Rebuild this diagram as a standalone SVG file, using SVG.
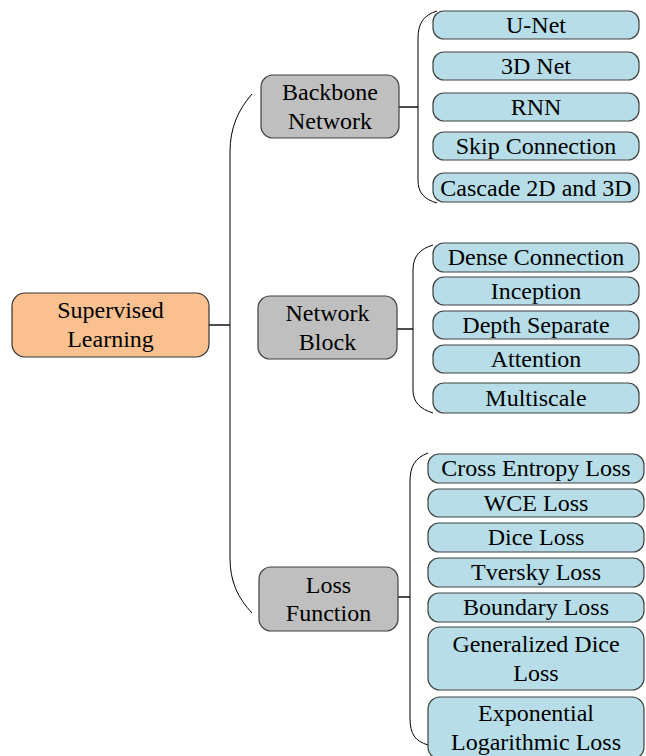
<svg xmlns="http://www.w3.org/2000/svg" width="646" height="756" viewBox="0 0 646 756">
<rect width="646" height="756" fill="#fff"/>
<g id="connectors" fill="none" stroke="#000">
<line stroke-width="1.4" x1="209" y1="325" x2="230" y2="325"/>
<path stroke-width="1" d="M252,94 C238,110 230,128 230,152 L230,558 C230,582 238,598 252,613"/>
<line stroke-width="1.4" x1="399" y1="107" x2="418" y2="107"/>
<path stroke-width="1" d="M437,11 C424,15 418,23 418,38 L418,180 C418,193 424,199 437,203"/>
<line stroke-width="1.4" x1="397" y1="329" x2="413" y2="329"/>
<path stroke-width="1" d="M433,245 C420,249 413,256 413,270 L413,390 C413,402 420,409 433,413"/>
<line stroke-width="1.4" x1="398" y1="597" x2="410" y2="597"/>
<path stroke-width="1" d="M428,453 C415,458 410,466 410,482 L410,718 C410,734 415,741 428,745"/>
</g>
<g id="supervised-learning"><rect fill="#FAC090" stroke="#333" stroke-width="1.2" x="12" y="293" width="197" height="64" rx="13"/><text font-family="Liberation Serif" font-size="24" text-anchor="middle" x="110.5" y="318">Supervised</text><text font-family="Liberation Serif" font-size="24" text-anchor="middle" x="110.5" y="347">Learning</text></g>
<g id="backbone-network"><rect fill="#BFBFBF" stroke="#404040" stroke-width="1.2" x="261" y="75" width="138" height="63" rx="12"/><text font-family="Liberation Serif" font-size="24" text-anchor="middle" x="330" y="100">Backbone</text><text font-family="Liberation Serif" font-size="24" text-anchor="middle" x="330" y="129">Network</text></g>
<g id="network-block"><rect fill="#BFBFBF" stroke="#404040" stroke-width="1.2" x="258" y="296" width="139" height="63" rx="12"/><text font-family="Liberation Serif" font-size="24" text-anchor="middle" x="327.5" y="321">Network</text><text font-family="Liberation Serif" font-size="24" text-anchor="middle" x="327.5" y="350">Block</text></g>
<g id="loss-function"><rect fill="#BFBFBF" stroke="#404040" stroke-width="1.2" x="259" y="567" width="139" height="64" rx="12"/><text font-family="Liberation Serif" font-size="24" text-anchor="middle" x="328.5" y="593">Loss</text><text font-family="Liberation Serif" font-size="24" text-anchor="middle" x="328.5" y="621">Function</text></g>
<g id="u-net"><rect fill="#B7DEE8" stroke="#404040" stroke-width="1.2" x="433" y="11" width="206" height="28" rx="11"/><text font-family="Liberation Serif" font-size="24" text-anchor="middle" x="536" y="33">U-Net</text></g>
<g id="3d-net"><rect fill="#B7DEE8" stroke="#404040" stroke-width="1.2" x="433" y="52" width="206" height="28" rx="11"/><text font-family="Liberation Serif" font-size="24" text-anchor="middle" x="536" y="74">3D Net</text></g>
<g id="rnn"><rect fill="#B7DEE8" stroke="#404040" stroke-width="1.2" x="433" y="93" width="206" height="28" rx="11"/><text font-family="Liberation Serif" font-size="24" text-anchor="middle" x="536" y="115">RNN</text></g>
<g id="skip-connection"><rect fill="#B7DEE8" stroke="#404040" stroke-width="1.2" x="433" y="132" width="206" height="28" rx="11"/><text font-family="Liberation Serif" font-size="24" text-anchor="middle" x="536" y="154">Skip Connection</text></g>
<g id="cascade"><rect fill="#B7DEE8" stroke="#404040" stroke-width="1.2" x="433" y="173" width="206" height="29" rx="11"/><text font-family="Liberation Serif" font-size="24" text-anchor="middle" x="536" y="196">Cascade 2D and 3D</text></g>
<g id="dense-connection"><rect fill="#B7DEE8" stroke="#404040" stroke-width="1.2" x="433" y="243" width="206" height="29" rx="11"/><text font-family="Liberation Serif" font-size="24" text-anchor="middle" x="536" y="265">Dense Connection</text></g>
<g id="inception"><rect fill="#B7DEE8" stroke="#404040" stroke-width="1.2" x="433" y="277" width="206" height="28" rx="11"/><text font-family="Liberation Serif" font-size="24" text-anchor="middle" x="536" y="299">Inception</text></g>
<g id="depth-separate"><rect fill="#B7DEE8" stroke="#404040" stroke-width="1.2" x="433" y="311" width="206" height="28" rx="11"/><text font-family="Liberation Serif" font-size="24" text-anchor="middle" x="536" y="333">Depth Separate</text></g>
<g id="attention"><rect fill="#B7DEE8" stroke="#404040" stroke-width="1.2" x="433" y="345" width="206" height="28" rx="11"/><text font-family="Liberation Serif" font-size="24" text-anchor="middle" x="536" y="367">Attention</text></g>
<g id="multiscale"><rect fill="#B7DEE8" stroke="#404040" stroke-width="1.2" x="433" y="383" width="206" height="30" rx="11"/><text font-family="Liberation Serif" font-size="24" text-anchor="middle" x="536" y="406">Multiscale</text></g>
<g id="cross-entropy-loss"><rect fill="#B7DEE8" stroke="#404040" stroke-width="1.2" x="428" y="454" width="216" height="29" rx="11"/><text font-family="Liberation Serif" font-size="24" text-anchor="middle" x="536" y="476">Cross Entropy Loss</text></g>
<g id="wce-loss"><rect fill="#B7DEE8" stroke="#404040" stroke-width="1.2" x="428" y="489" width="216" height="28" rx="11"/><text font-family="Liberation Serif" font-size="24" text-anchor="middle" x="536" y="511">WCE Loss</text></g>
<g id="dice-loss"><rect fill="#B7DEE8" stroke="#404040" stroke-width="1.2" x="428" y="523" width="216" height="29" rx="11"/><text font-family="Liberation Serif" font-size="24" text-anchor="middle" x="536" y="545">Dice Loss</text></g>
<g id="tversky-loss"><rect fill="#B7DEE8" stroke="#404040" stroke-width="1.2" x="428" y="558" width="216" height="29" rx="11"/><text font-family="Liberation Serif" font-size="24" text-anchor="middle" x="536" y="580">Tversky Loss</text></g>
<g id="boundary-loss"><rect fill="#B7DEE8" stroke="#404040" stroke-width="1.2" x="428" y="593" width="216" height="29" rx="11"/><text font-family="Liberation Serif" font-size="24" text-anchor="middle" x="536" y="615">Boundary Loss</text></g>
<g id="generalized-dice-loss"><rect fill="#B7DEE8" stroke="#404040" stroke-width="1.2" x="428" y="627" width="216" height="63" rx="12"/><text font-family="Liberation Serif" font-size="24" text-anchor="middle" x="536" y="652">Generalized Dice</text><text font-family="Liberation Serif" font-size="24" text-anchor="middle" x="536" y="681">Loss</text></g>
<g id="exponential-logarithmic-loss"><rect fill="#B7DEE8" stroke="#404040" stroke-width="1.2" x="428" y="697" width="216" height="62" rx="12"/><text font-family="Liberation Serif" font-size="24" text-anchor="middle" x="536" y="721">Exponential</text><text font-family="Liberation Serif" font-size="24" text-anchor="middle" x="536" y="750">Logarithmic Loss</text></g>
</svg>
